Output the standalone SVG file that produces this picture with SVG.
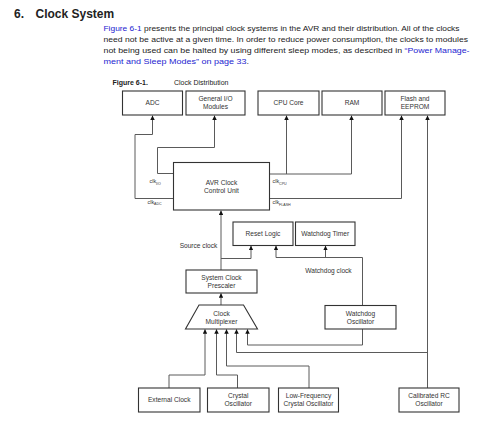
<svg xmlns="http://www.w3.org/2000/svg" width="480" height="421" viewBox="0 0 480 421">
<defs>
<marker id="ah" viewBox="0 0 6 6" refX="6" refY="3" markerWidth="4.5" markerHeight="4.5" markerUnits="userSpaceOnUse" orient="auto">
<path d="M0,0 L6,3 L0,6 z" fill="#111"/>
</marker>
<style>
.t{font-family:"Liberation Sans",Arial,sans-serif;fill:#222}
.p{font-size:7.2px}
.lk{fill:#2323d0}
.b{fill:#fff;stroke:#333;stroke-width:1.1}
.n{font-size:6.6px;text-anchor:middle;fill:#333}
.c{fill:none;stroke:#5a5a5a;stroke-width:1}
.s{font-size:5.4px;fill:#333}
.sub{font-size:3.6px}
</style>
</defs>
<rect width="480" height="421" fill="#fff"/>
<text class="t" x="14" y="17.5" font-size="12" font-weight="bold">6.<tspan x="35.5">Clock System</tspan></text>
<g class="t p">
<text x="103.5" y="30.5" textLength="356" lengthAdjust="spacingAndGlyphs"><tspan class="lk">Figure 6-1</tspan> presents the principal clock systems in the AVR and their distribution. All of the clocks</text>
<text x="103.5" y="41.7" textLength="364.5" lengthAdjust="spacingAndGlyphs">need not be active at a given time. In order to reduce power consumption, the clocks to modules</text>
<text x="103.5" y="52.9" textLength="366" lengthAdjust="spacingAndGlyphs">not being used can be halted by using different sleep modes, as described in <tspan class="lk">“Power Manage-</tspan></text>
<text x="103.5" y="64.1" textLength="145.5" lengthAdjust="spacingAndGlyphs"><tspan class="lk">ment and Sleep Modes” on page 33</tspan>.</text>
</g>
<text class="t" x="112.5" y="85" font-size="7" font-weight="bold">Figure 6-1.</text>
<text class="t" x="174" y="85" font-size="7">Clock Distribution</text>

<g id="connectors">
<path class="c" d="M173.5 198.5 H135 V134.5 H152.5 V115.5" marker-end="url(#ah)"/>
<path class="c" d="M173.5 173.5 H157.5 V147.5 H214.5 V115.5" marker-end="url(#ah)"/>
<path class="c" d="M269.5 174 H351.5 V115.5" marker-end="url(#ah)"/>
<path class="c" d="M286.5 174 V115.5" marker-end="url(#ah)"/>
<path class="c" d="M269.5 198.5 H401.5 V115.5" marker-end="url(#ah)"/>
<path class="c" d="M427.5 388 V115.5" marker-end="url(#ah)"/>
<path class="c" d="M221 270 V210.5" marker-end="url(#ah)"/>
<path class="c" d="M221 258.5 H251 V245.8" marker-end="url(#ah)"/>
<path class="c" d="M362.5 305.5 V257.5 H276 V245.8" marker-end="url(#ah)"/>
<path class="c" d="M325.5 257.5 V245.8" marker-end="url(#ah)"/>
<path class="c" d="M221 305 V293.3" marker-end="url(#ah)"/>
<path class="c" d="M169 388 V375 H205 V329.3" marker-end="url(#ah)"/>
<path class="c" d="M237.5 388 V375 H216.5 V329.3" marker-end="url(#ah)"/>
<path class="c" d="M309 388 V366 H226.5 V329.3" marker-end="url(#ah)"/>
<path class="c" d="M427.5 352.5 H236.5 V329.3" marker-end="url(#ah)"/>
<path class="c" d="M362.5 329 V345 H247.5 V329.3" marker-end="url(#ah)"/>
</g>

<g id="adc"><rect class="b" x="122.5" y="91" width="60" height="24"/><text class="t n" x="152.5" y="105.3">ADC</text></g>
<g id="gio"><rect class="b" x="186" y="91" width="59" height="24"/><text class="t n" x="215.5" y="101">General I/O</text><text class="t n" x="215.5" y="109.3">Modules</text></g>
<g id="cpu"><rect class="b" x="258" y="91" width="61" height="24"/><text class="t n" x="288.5" y="105.3">CPU Core</text></g>
<g id="ram"><rect class="b" x="322" y="91" width="60" height="24"/><text class="t n" x="352" y="105.3">RAM</text></g>
<g id="flash"><rect class="b" x="385" y="91" width="60" height="24"/><text class="t n" x="415" y="101">Flash and</text><text class="t n" x="415" y="109.3">EEPROM</text></g>

<g id="avr"><rect class="b" x="173.5" y="162.5" width="96" height="47.5"/>
<text class="t n" x="221.5" y="184.5">AVR Clock</text><text class="t n" x="221.5" y="193">Control Unit</text>
<text class="t s" x="149.5" y="183">clk<tspan class="sub" dy="1.5">I/O</tspan></text>
<text class="t s" x="147.5" y="203.5">clk<tspan class="sub" dy="1.5">ADC</tspan></text>
<text class="t s" x="272.5" y="183">clk<tspan class="sub" dy="1.5">CPU</tspan></text>
<text class="t s" x="272.5" y="204">clk<tspan class="sub" dy="1.5">FLASH</tspan></text>
</g>

<g id="reset"><rect class="b" x="233" y="222" width="60" height="23.5"/><text class="t n" x="263" y="236">Reset Logic</text></g>
<g id="wdt"><rect class="b" x="295.5" y="222" width="59.5" height="23.5"/><text class="t n" x="325.2" y="236">Watchdog Timer</text></g>
<text class="t n" x="198.5" y="247.5">Source clock</text>
<text class="t n" x="328.5" y="273">Watchdog clock</text>

<g id="prescaler"><rect class="b" x="186" y="270" width="71" height="23"/><text class="t n" x="221.5" y="280">System Clock</text><text class="t n" x="221.5" y="288">Prescaler</text></g>
<g id="mux"><polygon class="b" points="199,305 243.5,305 257.5,329 185.5,329"/><text class="t n" x="221.5" y="315.5">Clock</text><text class="t n" x="221.5" y="324">Multiplexer</text></g>
<g id="wdosc"><rect class="b" x="325" y="305.5" width="71" height="23.5"/><text class="t n" x="360.5" y="315.5">Watchdog</text><text class="t n" x="360.5" y="323.5">Oscillator</text></g>

<g id="extclk"><rect class="b" x="138.5" y="388" width="61.5" height="24"/><text class="t n" x="169.2" y="402.3">External Clock</text></g>
<g id="xtal"><rect class="b" x="207.5" y="388" width="61.5" height="24"/><text class="t n" x="238.2" y="398">Crystal</text><text class="t n" x="238.2" y="406.3">Oscillator</text></g>
<g id="lfxtal"><rect class="b" x="278.5" y="388" width="60" height="24"/><text class="t n" x="308.5" y="398">Low-Frequency</text><text class="t n" x="308.5" y="406.3">Crystal Oscillator</text></g>
<g id="rcosc"><rect class="b" x="399" y="388" width="60" height="24"/><text class="t n" x="429" y="398">Calibrated RC</text><text class="t n" x="429" y="406.3">Oscillator</text></g>
</svg>
